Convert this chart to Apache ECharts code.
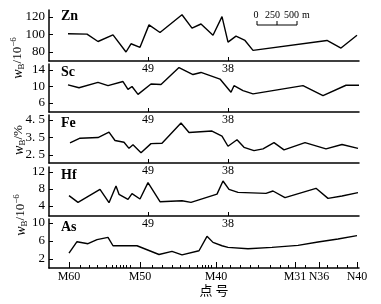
<!DOCTYPE html>
<html><head><meta charset="utf-8">
<script src="https://cdn.jsdelivr.net/npm/echarts@6/dist/echarts.min.js"></script>
<style>html,body{margin:0;padding:0;background:#fff}#c{width:381px;height:304px}</style>
</head><body><div id="c"></div>
<script>
// ---- data: position along profile (chart units) and values ----
const znX = [68,87,98,113,126,131,140,149,160,182,192,201,213,222,228,236,245,253,327,341,357];
const znV = [100.8,100.4,92,99.6,80,89.4,85.3,111,102.3,122.6,107.2,112,99.2,120.4,91.3,98.1,93.2,81.9,93.2,84.5,99.2];
const scX = [68,79,98,108,123,128,132,138,151,161,179,193,201,220,231,234,243,253,303,323,346,359];
const scV = [10.4,9.7,11,10.2,11.2,9.3,10,8.1,10.6,10.5,14.6,12.9,13.4,11.8,8.6,10.2,9,8.2,10.2,7.8,10.3,10.3];
const feX = [70,80,98,109,115,124,129,133,141,151,162,181,189,212,222,228,237,244,254,263,274,284,305,326,342,358];
const feV = [3.19,3.46,3.5,3.81,3.33,3.23,2.88,3.08,2.63,3.15,3.17,4.33,3.79,3.87,3.58,3.0,3.37,2.94,2.75,2.85,3.21,2.79,3.21,2.85,3.1,2.88];
const hfX = [69,78,100,109,116,119,128,132,140,148,160,182,191,217,223,229,238,266,273,285,316,328,342,358];
const hfV = [6.43,4.86,7.92,4.78,8.7,6.75,5.57,6.9,5.65,9.5,5.02,5.25,4.86,6.8,9.88,7.92,7.2,6.98,7.53,5.96,8.16,5.8,6.35,7.14];
const asX = [69,77,88,97,108,113,137,159,172,182,199,207,213,222,228,248,272,298,318,338,357];
const asV = [3.3,5.85,5.4,6.3,6.8,4.95,4.95,3.0,3.7,2.93,3.83,7.05,5.7,4.95,4.58,4.28,4.58,5.03,5.78,6.45,7.2];

const elements = ['Zn','Sc','Fe','Hf','As'];
const yTicks = [[80,100,120],[6,10,14],[2.5,3.5,4.5],[4,8,12],[2,6,10]];
const yTickLabels = [['80','100','120'],['6','10','14'],['2. 5','3. 5','4. 5'],['4','8','12'],['2','6','10']];

const innerTickPos = [148,228];
const innerTickLabels = ['49','38'];
const bottomTickPos = [69,140,216,295,319,357];
const bottomTickLabels = ['M60','M50','M40','M31','N36','N40'];
const bottomMinorTicks = [80,89,97,106,112,116,120,123,126,130,152,162,172,180,189,197,202,205,208,211,222,230,240,250,258,270,280,288,305,327,337,347];
const scaleLabels = ['0','250','500','m'];

// ---- layout ----
const grids = [
  {top:10, height:51, ymin:69.7, ymax:128},
  {top:64, height:48, ymin:3.82, ymax:15.45},
  {top:115, height:48, ymin:2.04, ymax:4.79},
  {top:167, height:49, ymin:1.65, ymax:13.18},
  {top:219, height:49, ymin:0, ymax:10.9}
];
const serif = '"Liberation Serif","DejaVu Serif",serif';
const series = [[znX,znV],[scX,scV],[feX,feV],[hfX,hfV],[asX,asV]];

const option = {
  animation:false,
  backgroundColor:'#fff',
  grid: grids.map(g=>({left:49, width:310, top:g.top, height:g.height, containLabel:false})),
  xAxis: grids.map((g,i)=>{
    const last = i===4;
    return {
      gridIndex:i, type:'value', min:49, max:359,
      axisLine:{show:true, lineStyle:{color:'#000', width:1.5}},
      axisTick:{show:true, inside:true, length: last?6:4, lineStyle:{color:'#000', width:1},
        customValues: last? bottomTickPos : innerTickPos},
      axisLabel:{show:true, margin: last?3:2, color:'#000', fontFamily:serif, fontSize: 12,
        customValues: last? bottomTickPos : innerTickPos,
        formatter:(v)=>{const arr=last?bottomTickPos:innerTickPos; const lab=last?bottomTickLabels:innerTickLabels; const k=arr.indexOf(v); return k>=0?lab[k]:'';}},
      splitLine:{show:false}
    };
  }).concat([{
      gridIndex:4, type:'value', min:49, max:359, position:'bottom',
      axisLine:{show:false},
      axisTick:{show:true, inside:true, length:3, lineStyle:{color:'#000', width:1}, customValues: bottomMinorTicks},
      axisLabel:{show:false}, splitLine:{show:false}
  }]),
  yAxis: grids.map((g,i)=>({
    gridIndex:i, type:'value', min:g.ymin, max:g.ymax,
    axisLine:{show:true, lineStyle:{color:'#000', width:1.5}},
    axisTick:{show:true, inside:true, length:4, lineStyle:{color:'#000', width:1}, customValues:yTicks[i]},
    axisLabel:{show:true, margin:4, color:'#000', fontFamily:serif, fontSize:13, customValues:yTicks[i],
      formatter:(v)=>{const k=yTicks[i].indexOf(v); return k>=0?yTickLabels[i][k]:'';}},
    splitLine:{show:false}
  })),
  series: series.map((s,i)=>({
    type:'line', xAxisIndex:i, yAxisIndex:i, symbol:'none', silent:true,
    lineStyle:{color:'#000', width:1.4},
    data: s[0].map((x,k)=>[x, s[1][k]])
  })),
  graphic: [
    ...elements.map((e,i)=>({type:'text', left:61, top:grids[i].top+(i===0?-1:1),
      style:{text:e, fontFamily:serif, fontWeight:'bold', fontSize:14, fill:'#000'}})),
    // y axis names (rotated)
    ...[[18,58,'10'],[19,140,'%'],[21,215,'10']].map((p)=>({
      type:'text', x:p[0], y:p[1], rotation:Math.PI/2,
      style:{
        text: p[2]==='%' ? '{w|w}{s|B}{n|/%}' : '{w|w}{s|B}{n|/10}{p|−6}',
        align:'center', verticalAlign:'middle', fill:'#000',
        rich:{
          w:{fontFamily:serif, fontStyle:'italic', fontSize:14, fill:'#000'},
          s:{fontFamily:serif, fontSize:9, padding:[7,0,0,0], fill:'#000'},
          n:{fontFamily:serif, fontSize:13, fill:'#000'},
          p:{fontFamily:serif, fontSize:9, padding:[0,0,8,0], fill:'#000'}
        }
      }})),
    // scale bar
    ...[[256,scaleLabels[0]],[272.5,scaleLabels[1]],[291.5,scaleLabels[2]],[306,scaleLabels[3]]].map(p=>({
      type:'text', x:p[0], y:15, style:{text:p[1], align:'center', verticalAlign:'middle', fontFamily:serif, fontSize:10, fill:'#000'}})),
    {type:'polyline', shape:{points:[[257,21],[257,25],[297,25],[297,21]]}, style:{stroke:'#000', lineWidth:1, fill:null}},
    {type:'line', shape:{x1:277, y1:21, x2:277, y2:25}, style:{stroke:'#000', lineWidth:1}},
    // x axis name
    {type:'text', x:214, y:290, style:{text:'点 号', align:'center', verticalAlign:'middle', fontFamily:'"Noto Sans CJK SC",sans-serif', fontSize:13, fill:'#000'}}
  ]
};
const chart = echarts.init(document.getElementById('c'), null, {renderer:'canvas'});
chart.setOption(option);
</script>
</body></html>
